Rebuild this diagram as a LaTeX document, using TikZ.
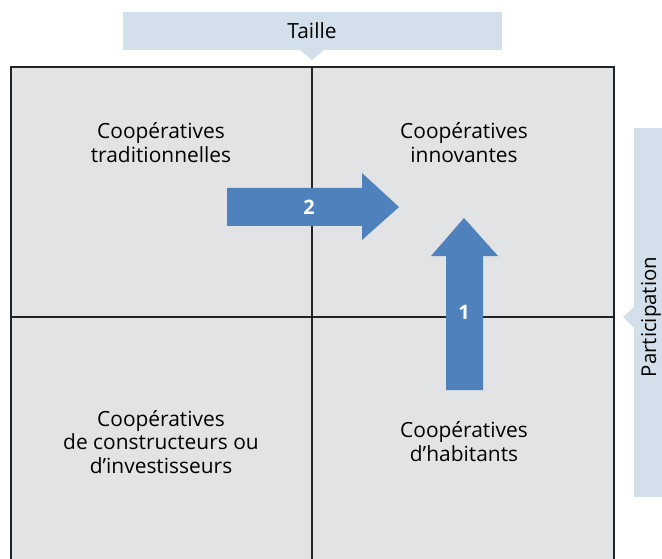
\documentclass[tikz,border=0pt]{standalone}
\usepackage{fontspec}
\setmainfont{Open Sans}
\begin{document}
\begin{tikzpicture}[x=1bp,y=-1bp,
  quadtext/.style={align=center,font=\fontsize{21}{24}\selectfont,text=black},
  lbl/.style={fill=labelblue,draw=none},
  arrowfill/.style={fill=arrowblue,draw=none},
  numtext/.style={font=\fontsize{20}{22}\selectfont\bfseries,text=white}]
\definecolor{labelblue}{HTML}{D3DFEA}
\definecolor{arrowblue}{HTML}{4F81BD}
\definecolor{quadgray}{HTML}{E2E3E5}
\definecolor{gridline}{HTML}{222222}
\useasboundingbox (0,0) rectangle (662,559);
% quadrant area
\fill[quadgray] (11,67) rectangle (614,560);
\draw[gridline,line width=1.1bp] (11,560) -- (11,67) -- (614,67) -- (614,560);
\coordinate (vtop) at (312,67);
\coordinate (vbot) at (312,560);
\coordinate (hl) at (11,317);
\coordinate (hr) at (614,317);
\draw[gridline,line width=1.1bp] (vtop) -- (vbot);
\draw[gridline,line width=1.1bp] (hl) -- (hr);
% top label
\path[lbl] (123,12) rectangle (502,50);
\path[lbl] (300,50) -- (312,60) -- (324,50) -- cycle;
\node[font=\fontsize{21}{24}\selectfont] (taille) at (312,31) {Taille};
% right label
\path[lbl] (634,128) rectangle (662,497);
\path[lbl] (634,307) -- (623,317) -- (634,328) -- cycle;
\node[font=\fontsize{20.5}{24}\selectfont,rotate=90,inner sep=0pt] (particip) at (651,317) {Participation};
% quadrant texts
\node[quadtext] (tl) at (161,143) {Coopératives\\traditionnelles};
\node[quadtext] (tr) at (464,143) {Coopératives\\innovantes};
\node[quadtext] (bl) at (161,442) {Coopératives\\de constructeurs ou\\d’investisseurs};
\node[quadtext] (br) at (464,442) {Coopératives\\d’habitants};
% arrow 2
\path[arrowfill] (227,188) -- (362,188) -- (362,173) -- (399,207) -- (362,240) -- (362,226) -- (227,226) -- cycle;
\node[numtext] (n2) at (309,207) {2};
% arrow 1
\path[arrowfill] (446,390) -- (446,256) -- (431,256) -- (464,218) -- (498,256) -- (483,256) -- (483,390) -- cycle;
\node[numtext] (n1) at (464,312) {1};
\end{tikzpicture}
\end{document}
